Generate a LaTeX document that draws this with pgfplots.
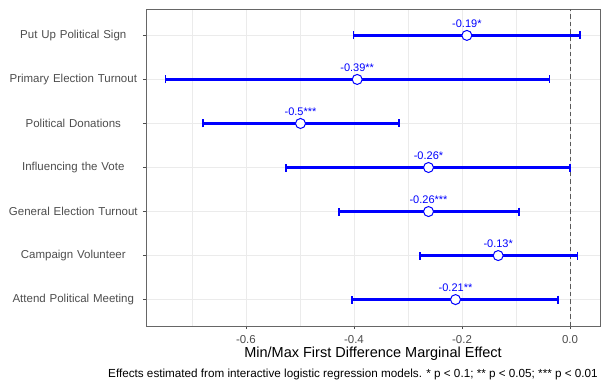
\documentclass[border=0pt]{standalone}
\usepackage{pgfplots}
\usepackage{pgfplotstable}
\pgfplotsset{compat=1.18}
\usepackage{fontspec}
\setmainfont{Liberation Sans}
\pgfplotstableread{
row est em ep lab
7 -0.191 0.210 0.210 -0.19*
6 -0.394 0.355 0.356 -0.39**
5 -0.499 0.181 0.182 -0.5***
4 -0.262 0.264 0.262 -0.26*
3 -0.262 0.166 0.167 -0.26***
2 -0.133 0.145 0.147 -0.13*
1 -0.212 0.192 0.190 -0.21**
}\datatable
\definecolor{gridc}{HTML}{EBEBEB}
\definecolor{tickc}{HTML}{4D4D4D}
\begin{document}
\begin{tikzpicture}[x=1pt,y=1pt]
\path[use as bounding box] (-146,-58) rectangle (455,326);
\begin{axis}[
  at={(0,0)}, anchor=south west,
  scale only axis, width=454pt, height=317pt,
  xmin=-0.785, xmax=0.0555, ymin=0.4, ymax=7.6,
  xtick={-0.6,-0.4,-0.2,0}, xticklabels={-0.6,-0.4,-0.2,0.0},
  minor xtick={-0.7,-0.5,-0.3,-0.1},
  ytick={1,2,3,4,5,6,7},
  yticklabels={Attend Political Meeting,Campaign Volunteer,General Election Turnout,Influencing the Vote,Political Donations,Primary Election Turnout,Put Up Political Sign},
  xtick pos=bottom, ytick pos=left,
  xmajorgrids, xminorgrids, ymajorgrids,
  major grid style={gridc, line width=0.8pt},
  minor grid style={gridc, line width=0.5pt},
  axis line style={black!60, line width=0.7pt},
  tick align=outside, major tick length=3pt, minor tick length=0pt,
  tick style={black!70, line width=0.6pt},
  ticklabel style={font=\fontsize{11.5}{13}\selectfont, text=tickc},
  yticklabel style={text width=131pt, align=center, inner sep=0pt, xshift=-4pt},
  xticklabel style={inner sep=0pt, yshift=-6pt},
  xlabel={Min/Max First Difference Marginal Effect},
  xlabel style={font=\fontsize{14.5}{16}\selectfont, inner sep=0pt, at={(axis description cs:0.5,0)}, anchor=center, yshift=-27.5pt},
  clip=false,
]
\addplot[black!65, line width=0.7pt, dash pattern=on 4.5pt off 3pt, forget plot] coordinates {(0,0.4) (0,7.6)};
\addplot[draw=none, forget plot, error bars/.cd, x dir=both, x explicit,
  error bar style={blue, line width=2.4pt},
  error mark=|, error mark options={blue, line width=1.8pt, mark size=4pt}]
  table[x=est, y=row, x error minus=em, x error plus=ep] {\datatable};
\addplot[only marks, mark=*, mark size=5pt, mark options={draw=blue, fill=white, line width=1pt},
  point meta=explicit symbolic, nodes near coords,
  nodes near coords style={anchor=base, yshift=7.8pt, inner sep=0pt, text=blue, font=\fontsize{11}{13}\selectfont}]
  table[x=est, y=row, meta=lab] {\datatable};
\end{axis}
\node[anchor=base east, inner sep=0pt, font=\fontsize{11.7}{13}\selectfont] at (452,-51) {Effects estimated from interactive logistic regression models. * p {\char`\<} 0.1; ** p {\char`\<} 0.05; *** p {\char`\<} 0.01};
\end{tikzpicture}
\end{document}
